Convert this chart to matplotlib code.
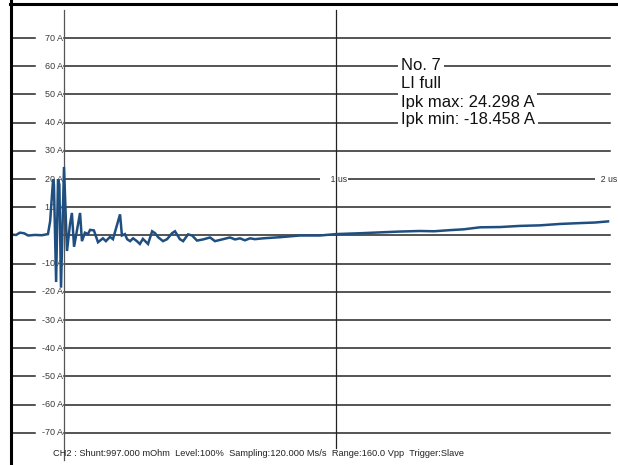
import matplotlib
matplotlib.use("Agg")
import matplotlib.pyplot as plt
from matplotlib.lines import Line2D

# --- data (time in us, current in A) ---
t_us = [-0.191, -0.176, -0.162, -0.147, -0.132, -0.107, -0.081, -0.059,
        -0.051, -0.040, -0.037, -0.029, -0.022, -0.017, -0.011, 0.000,
        0.011, 0.022, 0.029, 0.037, 0.048, 0.059, 0.066, 0.077, 0.088,
        0.096, 0.110, 0.125, 0.143, 0.154, 0.169, 0.180, 0.206, 0.213,
        0.224, 0.232, 0.243, 0.254, 0.268, 0.279, 0.290, 0.309, 0.324,
        0.335, 0.346, 0.364, 0.379, 0.397, 0.408, 0.426, 0.438, 0.456,
        0.471, 0.489, 0.511, 0.537, 0.555, 0.581, 0.610, 0.629, 0.647,
        0.665, 0.684, 0.702, 0.732, 0.794, 0.868, 0.941, 1.000, 1.088,
        1.160, 1.235, 1.309, 1.360, 1.419, 1.470, 1.529, 1.603, 1.676,
        1.750, 1.824, 1.897, 1.952, 2.000]
i_amp = [0.3, 0.2, 1.0, 0.8, 0.0, 0.2, 0.1, 0.5,
         5.0, 20.0, 18.0, -16.5, 20.0, 18.0, -18.5, 24.3,
         -5.5, 4.0, 8.0, -4.0, 2.0, 8.0, -2.0, 1.0, 0.5,
         2.0, 1.8, -2.4, -1.0, -2.0, -0.5, -1.3, 7.5, 0.0,
         0.5, -1.3, -2.0, -1.0, -2.0, -3.0, -1.2, -3.0, 1.5,
         0.8, -0.6, -2.0, -1.3, 0.8, 1.5, -1.3, -2.0, 0.4,
         0.0, -1.8, -1.4, -0.7, -2.0, -1.4, -0.7, -1.4, -1.0,
         -1.7, -1.0, -1.3, -1.0, -0.6, 0.0, 0.0, 0.5, 0.8,
         1.1, 1.4, 1.6, 1.5, 1.9, 2.2, 2.9, 3.0, 3.4,
         3.6, 4.1, 4.4, 4.6, 5.0]

y_levels = [70, 60, 50, 40, 30, 20, 10, 0, -10, -20, -30, -40, -50, -60, -70]
y_labels = [f"{v} A" for v in y_levels]
info_lines = ["No. 7", "LI full", "Ipk max: 24.298 A", "Ipk min: -18.458 A"]
footer = ("CH2 : Shunt:997.000 mOhm  Level:100%  Sampling:120.000 Ms/s  "
          "Range:160.0 Vpp  Trigger:Slave")

W, H = 618, 465
PX_US = 272.0      # pixels per microsecond
X0 = 64            # pixel column of t = 0
Y0 = 235.5         # pixel row of 0 A
PX_A = 2.82        # pixels per ampere


def tx(px):
    return (px - X0) / PX_US


def va(py):
    return (Y0 - py) / PX_A


fig = plt.figure(figsize=(W / 100, H / 100), dpi=100)
ax = fig.add_axes([0, 0, 1, 1])
ax.set_xlim(tx(0), tx(W))
ax.set_ylim(va(H), va(0))
ax.axis("off")

font = "Liberation Sans"
grid_c = "#262626"

# horizontal grid with the little dashes and labels on the left
for lev, lab in zip(y_levels, y_labels):
    ax.plot([0, tx(610)], [lev, lev], color=grid_c, lw=1.1, zorder=1)
    if lev == 0:
        continue
    ax.plot([tx(12), tx(35)], [lev, lev], color=grid_c, lw=1.1, zorder=1)
    ax.text(tx(63), lev, lab, ha="right", va="center", fontsize=6.5,
            family=font, color="#3a3a3a", zorder=2)

# axis line and 1 us marker line
ax.plot([0, 0], [va(10), va(460)], color="#555555", lw=0.9, zorder=3)
ax.plot([1, 1], [va(10), va(448)], color="#222222", lw=0.9, zorder=5)

# time labels sitting on the 20 A line
ax.text(tx(321), 20, "    1 us", ha="left", va="center", fontsize=6.3,
        family=font, color="#333333", zorder=4,
        bbox=dict(facecolor="white", edgecolor="none", pad=0.8))
ax.text(tx(596), 20, "  2 us", ha="left", va="center", fontsize=6.3,
        family=font, color="#333333", zorder=4,
        bbox=dict(facecolor="white", edgecolor="none", pad=0.8))

# waveform
ax.plot(t_us, i_amp, color="#1f4f80", lw=1.8, zorder=6,
        solid_joinstyle="miter")

# info text block
for s, base in zip(info_lines, [70.5, 88.3, 106.7, 124.0]):
    ax.text(tx(401), va(base), s, ha="left", va="baseline", fontsize=12,
            family=font, color="#111111", zorder=7,
            bbox=dict(facecolor="white", edgecolor="none", pad=2.0))

# footer
ax.text(tx(53), va(453), footer, ha="left", va="center", fontsize=6.7,
        family=font, color="#222222", zorder=7)

# frame edges of the scan (left and top only)
fig.add_artist(Line2D([10.5 / W, 10.5 / W], [0, 1], color="black", lw=2.2,
                      transform=fig.transFigure))
fig.add_artist(Line2D([10 / W, 1], [1 - 4 / H, 1 - 4 / H], color="black",
                      lw=2.2, transform=fig.transFigure))

fig.savefig("out.png", dpi=100, facecolor="white")
